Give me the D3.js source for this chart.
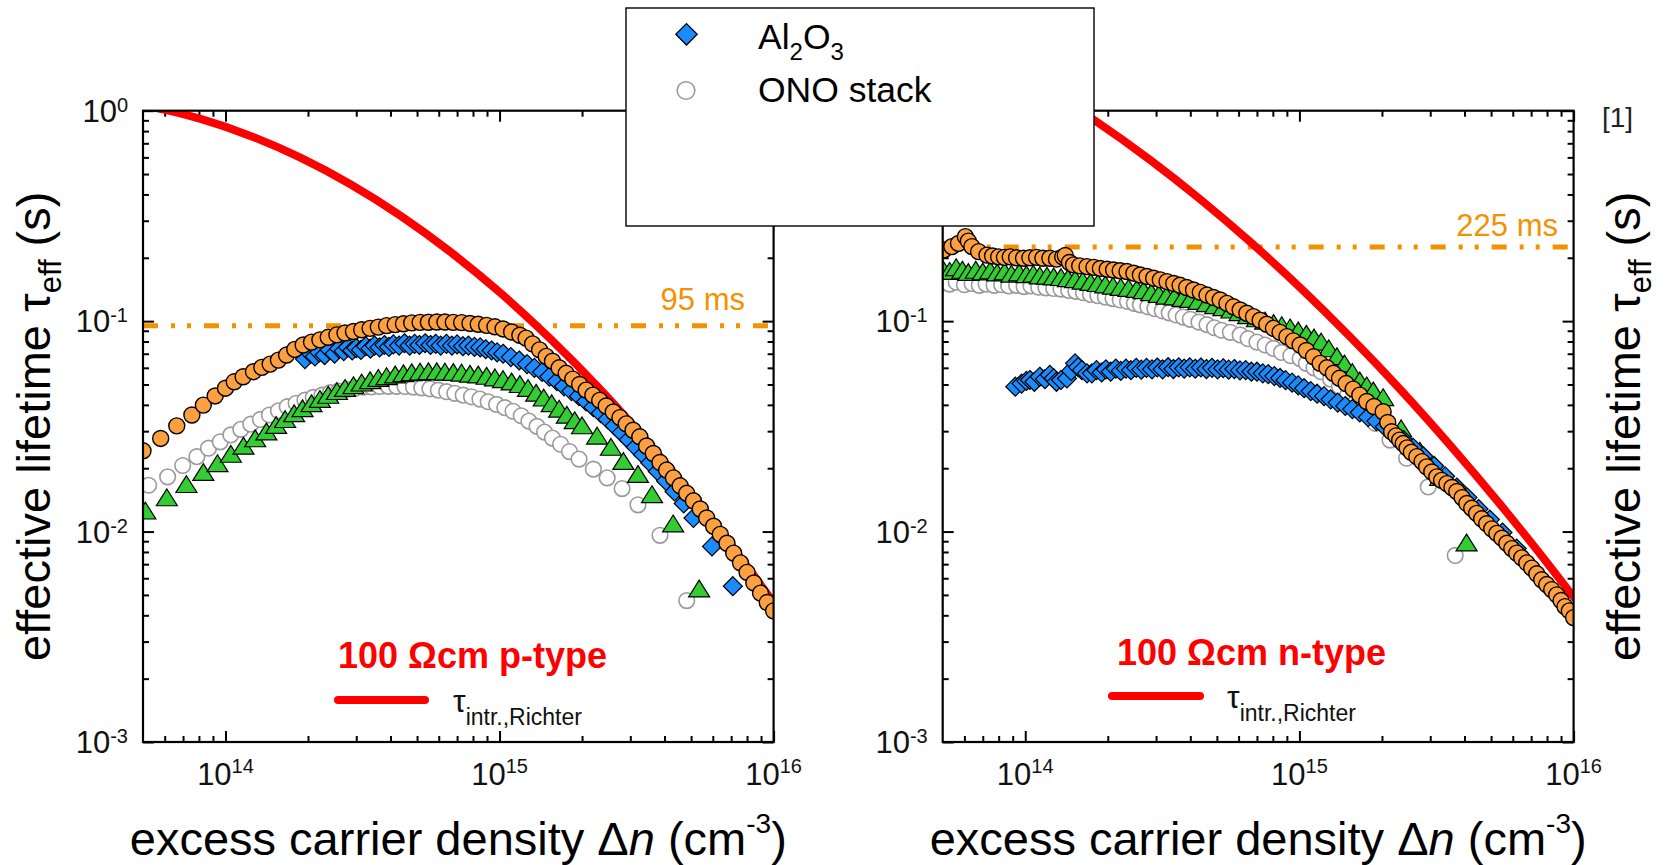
<!DOCTYPE html>
<html>
<head>
<meta charset="utf-8">
<script src="https://cdn.jsdelivr.net/npm/d3@7"></script>
<style>
  html, body { margin: 0; padding: 0; background: #fff; }
  svg { display: block; }
  text { font-family: Arial, "Liberation Sans", Helvetica, sans-serif; }
</style>
</head>
<body>
<svg id="chart" width="1671" height="865"></svg>
<script>
// ---------- axis ticks ----------
const xMajorTicks = [1e14, 1e15, 1e16];
const xTickExp = ["14", "15", "16"];
const yMajorTicks = [1, 0.1, 0.01, 0.001];
const yTickExp = ["0", "-1", "-2", "-3"];

// ---------- 100 Ωcm p-type : [Δn (cm^-3), τ_eff (s)] ----------
const pRichter = [[5.33e13,1.043],[6.21e13,1.0],[8.11e13,0.914],[1.233e14,0.759],[1.877e14,0.598],[2.856e14,0.447],
  [4.345e14,0.3174],[6.61e14,0.2136],[1.006e15,0.1363],[1.53e15,0.0825],[2.329e15,0.0474],[3.543e15,0.0258],
  [5.39e15,0.01335],[8.2e15,0.00655],[1e16,0.00459]];
const pLevel = 0.095;

const pOrange = [[5.0e13,0.0242],[5.8e13,0.0277],[6.64e13,0.0318],[7.54e13,0.0358],[8.3e13,0.0399],[9.17e13,0.0441],
  [1.0e14,0.048],[1.076e14,0.0515],[1.16e14,0.0544],[1.265e14,0.0575],[1.357e14,0.0603],[1.455e14,0.0625],[1.56e14,0.0653],
  [1.67e14,0.069],[1.79e14,0.0734],[1.92e14,0.077],[2.06e14,0.0795],[2.21e14,0.0815],[2.37e14,0.0838],[2.55e14,0.086],
  [2.73e14,0.0878],[2.93e14,0.0893],[3.14e14,0.091],[3.37e14,0.0924],[3.61e14,0.0937],[3.87e14,0.0952],[4.16e14,0.0962],
  [4.46e14,0.0972],[4.78e14,0.0981],[5.13e14,0.0986],[5.5e14,0.0988],[5.9e14,0.099],[6.32e14,0.099],[6.78e14,0.0987],
  [7.27e14,0.0984],[7.8e14,0.0975],[8.36e14,0.0966],[8.97e14,0.0955],[9.62e14,0.094],[1.03e15,0.0918],[1.107e15,0.0888],
  [1.186e15,0.0857],[1.25e15,0.083],[1.32e15,0.078],[1.40e15,0.073],[1.48e15,0.068],[1.56e15,0.0645],[1.65e15,0.060],
  [1.75e15,0.0565],[1.85e15,0.053],[1.96e15,0.050],[2.07e15,0.047],[2.19e15,0.0445],[2.32e15,0.042],[2.45e15,0.0395],
  [2.6e15,0.037],[2.75e15,0.0348],[2.9e15,0.0325],[3.07e15,0.0303],[3.25e15,0.0282],[3.44e15,0.0255],[3.64e15,0.0235],
  [3.85e15,0.0213],[4.07e15,0.0196],[4.31e15,0.018],[4.56e15,0.0165],[4.82e15,0.0152],[5.1e15,0.014],[5.4e15,0.0128],
  [5.7e15,0.0116],[6.04e15,0.0106],[6.39e15,0.0097],[6.76e15,0.0088],[7.15e15,0.0079],[7.57e15,0.0071],[8.0e15,0.0064],
  [8.47e15,0.0057],[8.96e15,0.0051],[9.48e15,0.0046],[1.0e16,0.0042]];

const pBlue = [[1.95e14,0.066],[2.05e14,0.070],[2.12e14,0.068],[2.2e14,0.071],[2.3e14,0.069],[2.4e14,0.073],[2.5e14,0.070],
  [2.6e14,0.074],[2.7e14,0.072],[2.8e14,0.075],[2.9e14,0.0725],[3.0e14,0.0745],[3.12e14,0.073],[3.25e14,0.076],
  [3.38e14,0.074],[3.5e14,0.0765],[3.65e14,0.075],[3.8e14,0.077],[3.95e14,0.0755],[4.1e14,0.0775],[4.3e14,0.0765],
  [4.5e14,0.0785],[4.7e14,0.0765],[4.9e14,0.078],[5.1e14,0.077],[5.35e14,0.0785],[5.6e14,0.077],[5.85e14,0.078],
  [6.1e14,0.0765],[6.4e14,0.078],[6.7e14,0.0765],[7.0e14,0.0775],[7.35e14,0.076],[7.7e14,0.0765],[8.1e14,0.0755],
  [8.5e14,0.075],[8.9e14,0.0735],[9.35e14,0.0725],[9.8e14,0.071],[1.03e15,0.070],[1.1e15,0.0675],[1.18e15,0.065],
  [1.26e15,0.0625],[1.34e15,0.060],[1.43e15,0.0573],[1.52e15,0.0545],[1.62e15,0.0518],[1.72e15,0.049],[1.83e15,0.0465],
  [1.95e15,0.044],[2.07e15,0.0415],[2.2e15,0.039],[2.34e15,0.0365],[2.48e15,0.0342],[2.63e15,0.0318],[2.79e15,0.0295],
  [2.96e15,0.0273],[3.14e15,0.0252],[3.34e15,0.0232],[3.55e15,0.0212],[3.78e15,0.0193],[4.05e15,0.0174],[4.35e15,0.0155],
  [4.7e15,0.0136],[5.1e15,0.0116],[5.96e15,0.0085],[7.1e15,0.0055]];

const pGreen = [[5.1e13,0.0122],[6.11e13,0.0141],[7.2e13,0.0163],[8.3e13,0.0186],[9.35e13,0.0205],[1.046e14,0.0227],
  [1.163e14,0.0248],[1.283e14,0.0269],[1.41e14,0.029],[1.53e14,0.0311],[1.65e14,0.0332],[1.78e14,0.0354],[1.91e14,0.0374],
  [2.06e14,0.0395],[2.21e14,0.0414],[2.37e14,0.0433],[2.55e14,0.0451],[2.73e14,0.0467],[2.93e14,0.0481],[3.14e14,0.0495],
  [3.37e14,0.0508],[3.61e14,0.0521],[3.87e14,0.0531],[4.16e14,0.0541],[4.46e14,0.0548],[4.78e14,0.0554],[5.13e14,0.0558],
  [5.5e14,0.056],[5.9e14,0.056],[6.32e14,0.0558],[6.78e14,0.0556],[7.27e14,0.0552],[7.8e14,0.0545],[8.36e14,0.0541],
  [8.97e14,0.0533],[9.62e14,0.0524],[1.03e15,0.0514],[1.107e15,0.0501],[1.186e15,0.0487],[1.27e15,0.0467],[1.36e15,0.0443],
  [1.45e15,0.042],[1.55e15,0.0395],[1.65e15,0.0372],[1.76e15,0.0348],[1.88e15,0.0328],[2.0e15,0.031],[2.27e15,0.0277],
  [2.55e15,0.0245],[2.83e15,0.021],[3.2e15,0.0182],[3.6e15,0.0146],[4.3e15,0.0106],[5.35e15,0.0052]];

const pGray = [[5.24e13,0.0166],[6.15e13,0.0182],[6.98e13,0.0206],[7.86e13,0.0227],[8.67e13,0.0249],[9.57e13,0.0267],
  [1.046e14,0.0288],[1.137e14,0.0306],[1.237e14,0.0324],[1.34e14,0.0341],[1.446e14,0.0358],[1.56e14,0.0375],[1.68e14,0.0392],
  [1.81e14,0.0407],[1.95e14,0.0421],[2.09e14,0.0434],[2.25e14,0.0445],[2.41e14,0.0457],[2.58e14,0.0465],[2.77e14,0.0474],
  [2.97e14,0.048],[3.19e14,0.0485],[3.41e14,0.0487],[3.66e14,0.0489],[3.93e14,0.049],[4.21e14,0.049],[4.52e14,0.0489],
  [4.85e14,0.0486],[5.2e14,0.0482],[5.57e14,0.0477],[5.98e14,0.047],[6.41e14,0.0462],[6.87e14,0.0454],[7.37e14,0.0445],
  [7.9e14,0.0437],[8.48e14,0.0426],[9.09e14,0.0414],[9.75e14,0.0402],[1.045e15,0.0388],[1.12e15,0.0373],[1.2e15,0.0355],
  [1.28e15,0.0335],[1.37e15,0.0316],[1.46e15,0.0297],[1.56e15,0.0278],[1.67e15,0.026],[1.8e15,0.024],[1.95e15,0.0221],
  [2.2e15,0.0198],[2.47e15,0.018],[2.8e15,0.016],[3.2e15,0.0134],[3.85e15,0.0096],[4.82e15,0.0047]];

// ---------- 100 Ωcm n-type ----------
const nRichter = [[1.342e14,1.152],[1.784e14,0.903],[2.856e14,0.583],[4.345e14,0.3796],[6.61e14,0.2383],[1.006e15,0.1443],
  [1.53e15,0.0843],[2.329e15,0.0475],[3.543e15,0.02576],[5.39e15,0.0135],[8.2e15,0.00682],[1e16,0.00488]];
const nLevel = 0.225;

const nOrange = [[5.05e13,0.218],[5.4e13,0.226],[5.71e13,0.234],[6.05e13,0.252],[6.2e13,0.24],[6.39e13,0.226],
  [6.76e13,0.214],[7.25e13,0.206],[7.6e13,0.204],[8.0e13,0.202],[8.4e13,0.201],[8.82e13,0.202],[9.3e13,0.2],[9.86e13,0.199],
  [1.04e14,0.2],[1.1e14,0.201],[1.16e14,0.199],[1.23e14,0.199],[1.3e14,0.197],[1.37e14,0.202],[1.4e14,0.205],[1.45e14,0.19],
  [1.5e14,0.185],[1.58e14,0.183],[1.68e14,0.1815],[1.78e14,0.18],[1.88e14,0.178],[1.99e14,0.1765],[2.1e14,0.175],
  [2.22e14,0.1735],[2.35e14,0.172],[2.49e14,0.169],[2.63e14,0.1657],[2.78e14,0.163],[2.94e14,0.16],[3.11e14,0.157],
  [3.29e14,0.154],[3.48e14,0.151],[3.67e14,0.148],[3.88e14,0.1445],[4.11e14,0.1406],[4.35e14,0.137],[4.6e14,0.133],
  [4.86e14,0.1295],[5.14e14,0.126],[5.44e14,0.1215],[5.75e14,0.117],[6.08e14,0.113],[6.43e14,0.109],[6.8e14,0.105],
  [7.19e14,0.101],[7.6e14,0.0966],[8.04e14,0.0924],[8.5e14,0.0884],[9.0e14,0.0844],[9.5e14,0.0806],[1.006e15,0.077],
  [1.06e15,0.0725],[1.126e15,0.0677],[1.19e15,0.063],[1.26e15,0.06],[1.33e15,0.0565],[1.4e15,0.0535],[1.48e15,0.0505],
  [1.57e15,0.0475],[1.66e15,0.0445],[1.76e15,0.0415],[1.87e15,0.0393],[2.02e15,0.0371],[2.1e15,0.033],[2.17e15,0.0298],
  [2.25e15,0.0285],[2.32e15,0.0272],[2.39e15,0.0262],[2.47e15,0.025],[2.56e15,0.0238],[2.68e15,0.0227],[2.8e15,0.0215],
  [2.91e15,0.0203],[3.04e15,0.0192],[3.17e15,0.0182],[3.3e15,0.0175],[3.45e15,0.0169],[3.6e15,0.0162],[3.75e15,0.0155],
  [3.92e15,0.0145],[4.08e15,0.0136],[4.25e15,0.0129],[4.43e15,0.0122],[4.62e15,0.0115],[4.82e15,0.0109],[5.03e15,0.0103],
  [5.25e15,0.0098],[5.48e15,0.0093],[5.71e15,0.0088],[5.95e15,0.0083],[6.2e15,0.0079],[6.47e15,0.0075],[6.75e15,0.0071],
  [7.04e15,0.0067],[7.34e15,0.0063],[7.65e15,0.0059],[7.98e15,0.0056],[8.32e15,0.0053],[8.68e15,0.005],[9.0e15,0.0047],
  [9.3e15,0.0044],[9.65e15,0.0042],[1.0e16,0.0039]];

const nBlue = [[9.2e13,0.0488],[9.7e13,0.0505],[1.01e14,0.052],[1.04e14,0.0525],[1.08e14,0.0515],[1.13e14,0.0544],
  [1.18e14,0.053],[1.23e14,0.0555],[1.27e14,0.0535],[1.3e14,0.0515],[1.35e14,0.0525],[1.42e14,0.0534],[1.47e14,0.058],
  [1.52e14,0.063],[1.56e14,0.0605],[1.61e14,0.0585],[1.68e14,0.0565],[1.75e14,0.0565],[1.82e14,0.0585],[1.9e14,0.057],
  [1.97e14,0.059],[2.05e14,0.0575],[2.14e14,0.0595],[2.23e14,0.058],[2.33e14,0.0595],[2.43e14,0.0585],[2.54e14,0.06],
  [2.65e14,0.0588],[2.77e14,0.06],[2.9e14,0.059],[3.03e14,0.0602],[3.17e14,0.059],[3.32e14,0.0604],[3.47e14,0.0592],
  [3.63e14,0.0603],[3.8e14,0.0595],[3.98e14,0.0603],[4.17e14,0.0594],[4.37e14,0.0602],[4.58e14,0.0592],[4.8e14,0.06],
  [5.03e14,0.059],[5.27e14,0.0597],[5.52e14,0.0588],[5.79e14,0.0592],[6.07e14,0.0583],[6.37e14,0.0585],[6.68e14,0.0575],
  [7.0e14,0.0575],[7.35e14,0.0565],[7.7e14,0.056],[8.1e14,0.0548],[8.5e14,0.0537],[8.9e14,0.0524],[9.4e14,0.051],
  [9.9e14,0.0495],[1.04e15,0.048],[1.1e15,0.0465],[1.16e15,0.0452],[1.23e15,0.044],[1.3e15,0.0425],[1.38e15,0.041],
  [1.47e15,0.0395],[1.56e15,0.0382],[1.66e15,0.0368],[1.78e15,0.035],[1.91e15,0.0335],[2.05e15,0.0315],[2.2e15,0.0295],
  [2.4e15,0.0272],[2.6e15,0.025],[2.83e15,0.0228],[3.1e15,0.0205],[3.4e15,0.0183],[3.75e15,0.0162],[4.1e15,0.0145],
  [4.5e15,0.0128],[4.95e15,0.0114],[5.5e15,0.0099],[6.2e15,0.0083]];

const nGreen = [[5.0e13,0.172],[5.3e13,0.168],[5.6e13,0.175],[5.9e13,0.17],[6.2e13,0.166],[6.6e13,0.17],[7.0e13,0.167],
  [7.45e13,0.169],[7.9e13,0.165],[8.4e13,0.167],[8.9e13,0.163],[9.5e13,0.165],[1.01e14,0.162],[1.07e14,0.163],[1.13e14,0.16],
  [1.2e14,0.1595],[1.27e14,0.158],[1.35e14,0.157],[1.43e14,0.155],[1.52e14,0.1535],[1.62e14,0.151],[1.73e14,0.1488],
  [1.84e14,0.147],[1.96e14,0.145],[2.09e14,0.143],[2.23e14,0.141],[2.38e14,0.1395],[2.55e14,0.138],[2.7e14,0.136],
  [2.88e14,0.133],[3.07e14,0.1305],[3.27e14,0.128],[3.5e14,0.127],[3.75e14,0.125],[4.0e14,0.1235],[4.28e14,0.121],
  [4.6e14,0.118],[4.93e14,0.1155],[5.28e14,0.113],[5.65e14,0.11],[6.05e14,0.107],[6.5e14,0.1035],[7.0e14,0.1],
  [7.5e14,0.0975],[8.05e14,0.095],[8.62e14,0.0928],[9.25e14,0.0905],[9.9e14,0.0875],[1.06e15,0.0845],[1.13e15,0.081],
  [1.2e15,0.0775],[1.28e15,0.072],[1.37e15,0.066],[1.46e15,0.061],[1.56e15,0.0555],[1.66e15,0.0506],[1.76e15,0.048],
  [1.86e15,0.0454],[2.02e15,0.0422],[2.35e15,0.03],[2.75e15,0.0235],[3.26e15,0.0176],[4.07e15,0.0086]];

const nGray = [[5.0e13,0.152],[5.3e13,0.15],[5.6e13,0.153],[6.0e13,0.149],[6.4e13,0.151],[6.8e13,0.148],[7.2e13,0.15],
  [7.7e13,0.148],[8.2e13,0.149],[8.7e13,0.147],[9.3e13,0.148],[9.9e13,0.146],[1.05e14,0.147],[1.12e14,0.145],[1.19e14,0.144],
  [1.27e14,0.143],[1.35e14,0.142],[1.44e14,0.14],[1.53e14,0.1385],[1.63e14,0.1365],[1.73e14,0.134],[1.84e14,0.132],
  [1.96e14,0.13],[2.09e14,0.128],[2.22e14,0.126],[2.36e14,0.124],[2.5e14,0.1215],[2.63e14,0.1195],[2.8e14,0.117],
  [2.97e14,0.1145],[3.16e14,0.112],[3.35e14,0.1095],[3.55e14,0.107],[3.77e14,0.1045],[4.0e14,0.102],[4.3e14,0.099],
  [4.6e14,0.0962],[4.9e14,0.093],[5.2e14,0.0905],[5.6e14,0.0885],[6.08e14,0.086],[6.5e14,0.0825],[7.0e14,0.0795],
  [7.5e14,0.077],[8.04e14,0.0742],[8.6e14,0.071],[9.3e14,0.0685],[1.006e15,0.0664],[1.06e15,0.063],[1.13e15,0.06],
  [1.2e15,0.0575],[1.3e15,0.053],[1.4e15,0.049],[1.5e15,0.0445],[1.6e15,0.041],[1.71e15,0.0371],[1.89e15,0.0327],
  [2.14e15,0.0272],[2.46e15,0.0223],[2.95e15,0.0163],[3.7e15,0.0077]];

// ---------- layout ----------
const TOP = 110.7, BOTTOM = 742;
const C = {
  red: "#ff0000", level: "#f39200", orange: "#ffa040", blue: "#1a8cff",
  green: "#33cc33", gray: "#9a9a9a", ink: "#000"
};

const panels = [
  { id: "p", left: 143, right: 773.6, richter: pRichter, level: pLevel, levelText: "95 ms",
    levelLabel: { x: 745, dy: -16 }, orange: pOrange, blue: pBlue, green: pGreen, gray: pGray,
    typeText: "100 \u03A9cm p-type", typePos: [338, 668], keyLine: [338, 425, 700], keyTau: [453, 711.7],
    titleX: 50, hiddenYLabels: [] },
  { id: "n", left: 942.7, right: 1573.6, richter: nRichter, level: nLevel, levelText: "225 ms",
    levelLabel: { x: 1558, dy: -11 }, orange: nOrange, blue: nBlue, green: nGreen, gray: nGray,
    typeText: "100 \u03A9cm n-type", typePos: [1117, 665], keyLine: [1112, 1200, 696], keyTau: [1227, 708.3],
    titleX: 1640, hiddenYLabels: [1] }   // the 10^0 label sits under the legend box
];

const svg = d3.select("#chart");

// custom marker shapes
const triangleShape = {
  draw(ctx, w) { const h = w * 0.8; ctx.moveTo(0, -2 * h / 3); ctx.lineTo(w / 2, h / 3); ctx.lineTo(-w / 2, h / 3); ctx.closePath(); }
};
const diamondShape = {
  draw(ctx, r) { ctx.moveTo(0, -r); ctx.lineTo(r, 0); ctx.lineTo(0, r); ctx.lineTo(-r, 0); ctx.closePath(); }
};
const triPath = d3.symbol().type(triangleShape).size(21)();
const diaPath = d3.symbol().type(diamondShape).size(9.5)();
const diaLegendPath = d3.symbol().type(diamondShape).size(10.7)();

function minorTicks(lo, hi) {
  const out = [];
  for (let e = Math.floor(Math.log10(lo)); e <= Math.ceil(Math.log10(hi)); e++) {
    for (let k = 2; k <= 9; k++) { const v = k * Math.pow(10, e); if (v > lo * 1.001 && v < hi * 0.999) out.push(v); }
  }
  return out;
}

panels.forEach((P) => {
  const x = d3.scaleLog().domain([5e13, 1e16]).range([P.left, P.right]);
  const y = d3.scaleLog().domain([1e-3, 1]).range([BOTTOM, TOP]);
  const g = svg.append("g").attr("class", "panel-" + P.id);

  const clipId = "clip-" + P.id;
  svg.append("defs").append("clipPath").attr("id", clipId)
    .append("rect").attr("x", P.left).attr("y", TOP).attr("width", P.right - P.left).attr("height", BOTTOM - TOP);

  // ticks on all four sides, pointing inward
  const xMin = minorTicks(5e13, 1e16), yMin = minorTicks(1e-3, 1);
  const axes = [
    [d3.axisBottom(x), BOTTOM, "x"], [d3.axisTop(x), TOP, "x"],
    [d3.axisLeft(y), P.left, "y"], [d3.axisRight(y), P.right, "y"]
  ];
  axes.forEach(([ax, pos, dim]) => {
    [[dim === "x" ? xMin : yMin, -6], [dim === "x" ? xMajorTicks : yMajorTicks, -11]].forEach(([vals, size]) => {
      const a = ax.tickValues(vals).tickSize(size).tickSizeOuter(0).tickFormat("");
      const ag = g.append("g")
        .attr("transform", dim === "x" ? `translate(0,${pos})` : `translate(${pos},0)`)
        .call(a);
      ag.select(".domain").remove();
      ag.selectAll(".tick line").attr("stroke", C.ink).attr("stroke-width", 2);
    });
  });

  // tick labels
  g.selectAll(".xlab").data(xMajorTicks).join("text").attr("class", "xlab")
    .attr("x", d => x(d)).attr("y", 785).attr("text-anchor", "middle").attr("font-size", 31).attr("fill", "#111")
    .each(function (d, i) {
      const t = d3.select(this);
      t.append("tspan").text("10");
      t.append("tspan").attr("dy", -12).attr("font-size", 20).text(xTickExp[i]);
    });
  const yLabData = yMajorTicks.map((v, i) => ({ v, e: yTickExp[i] })).filter(d => !P.hiddenYLabels.includes(d.v));
  g.selectAll(".ylab").data(yLabData).join("text").attr("class", "ylab")
    .attr("x", P.left - 15).attr("y", d => y(d.v) + 11).attr("text-anchor", "end").attr("font-size", 31).attr("fill", "#111")
    .each(function (d) {
      const t = d3.select(this);
      t.append("tspan").text("10");
      t.append("tspan").attr("dy", -10).attr("font-size", 20).text(d.e);
    });

  const plot = g.append("g").attr("clip-path", `url(#${clipId})`);

  // measured lifetime limit (dash-dot)
  plot.append("line")
    .attr("x1", P.left).attr("x2", P.right).attr("y1", y(P.level)).attr("y2", y(P.level))
    .attr("stroke", C.level).attr("stroke-width", 5).attr("stroke-dasharray", "15,13,4,12,4,13");

  // intrinsic lifetime limit
  plot.append("path").datum(P.richter)
    .attr("d", d3.line().x(d => x(d[0])).y(d => y(d[1])).curve(d3.curveMonotoneX))
    .attr("fill", "none").attr("stroke", C.red).attr("stroke-width", 8).attr("stroke-linecap", "round");

  // ONO stack (open circles)
  plot.append("g").selectAll("circle").data(P.gray).join("circle")
    .attr("cx", d => x(d[0])).attr("cy", d => y(d[1])).attr("r", 7.8)
    .attr("fill", "#fff").attr("stroke", C.gray).attr("stroke-width", 1.6);
  // triangles
  plot.append("g").selectAll("path").data(P.green).join("path")
    .attr("transform", d => `translate(${x(d[0])},${y(d[1])})`).attr("d", triPath)
    .attr("fill", C.green).attr("stroke", C.ink).attr("stroke-width", 1.2).attr("stroke-linejoin", "miter");
  // Al2O3 (diamonds)
  plot.append("g").selectAll("path").data(P.blue).join("path")
    .attr("transform", d => `translate(${x(d[0])},${y(d[1])})`).attr("d", diaPath)
    .attr("fill", C.blue).attr("stroke", C.ink).attr("stroke-width", 1.2);
  // filled circles
  plot.append("g").selectAll("circle").data(P.orange).join("circle")
    .attr("cx", d => x(d[0])).attr("cy", d => y(d[1])).attr("r", 8)
    .attr("fill", C.orange).attr("stroke", C.ink).attr("stroke-width", 1.4);

  // frame
  g.append("rect").attr("x", P.left).attr("y", TOP).attr("width", P.right - P.left).attr("height", BOTTOM - TOP)
    .attr("fill", "none").attr("stroke", C.ink).attr("stroke-width", 2.2);

  // level label
  g.append("text").attr("x", P.levelLabel.x).attr("y", y(P.level) + P.levelLabel.dy)
    .attr("text-anchor", "end").attr("font-size", 31).attr("fill", C.level).text(P.levelText);

  // wafer type + intrinsic key
  g.append("text").attr("x", P.typePos[0]).attr("y", P.typePos[1]).attr("font-size", 36).attr("font-weight", "bold")
    .attr("fill", C.red).text(P.typeText);
  g.append("line").attr("x1", P.keyLine[0]).attr("x2", P.keyLine[1]).attr("y1", P.keyLine[2]).attr("y2", P.keyLine[2])
    .attr("stroke", C.red).attr("stroke-width", 8).attr("stroke-linecap", "round");
  const kt = g.append("text").attr("x", P.keyTau[0]).attr("y", P.keyTau[1]).attr("font-size", 32).attr("fill", "#111");
  kt.append("tspan").text("\u03C4");
  kt.append("tspan").attr("dy", 13).attr("font-size", 23).text("intr.,Richter");

  // axis titles
  const xt = g.append("text").attr("x", (P.left + P.right) / 2).attr("y", 855).attr("text-anchor", "middle")
    .attr("font-size", 47).attr("fill", "#000");
  xt.append("tspan").text("excess carrier density \u0394");
  xt.append("tspan").attr("font-style", "italic").text("n");
  xt.append("tspan").text(" (cm");
  xt.append("tspan").attr("dy", -22).attr("font-size", 28).text("-3");
  xt.append("tspan").attr("dy", 22).text(")");

  const yt = g.append("text").attr("transform", `translate(${P.titleX},${(TOP + BOTTOM) / 2}) rotate(-90)`)
    .attr("text-anchor", "middle").attr("font-size", 47).attr("fill", "#000");
  yt.append("tspan").text("effective lifetime \u03C4");
  yt.append("tspan").attr("dy", 11).attr("font-size", 31).text("eff");
  yt.append("tspan").attr("dy", -11).text("  (s)");
});

// reference tag
svg.append("text").attr("x", 1602).attr("y", 127).attr("font-size", 28).attr("fill", "#222").text("[1]");

// legend
const lg = svg.append("g").attr("class", "legend");
lg.append("rect").attr("x", 626).attr("y", 8).attr("width", 468).attr("height", 218)
  .attr("fill", "#fff").attr("stroke", "#000").attr("stroke-width", 1.4);
lg.append("path").attr("transform", "translate(686.5,34.3)").attr("d", diaLegendPath)
  .attr("fill", C.blue).attr("stroke", "#000").attr("stroke-width", 1.3);
const l1 = lg.append("text").attr("x", 758).attr("y", 48.5).attr("font-size", 35.5).attr("fill", "#000");
l1.append("tspan").text("Al");
l1.append("tspan").attr("dy", 11).attr("font-size", 24).text("2");
l1.append("tspan").attr("dy", -11).text("O");
l1.append("tspan").attr("dy", 11).attr("font-size", 24).text("3");
lg.append("circle").attr("cx", 686).attr("cy", 90.5).attr("r", 8.8)
  .attr("fill", "#fff").attr("stroke", C.gray).attr("stroke-width", 1.6);
lg.append("text").attr("x", 758).attr("y", 101.5).attr("font-size", 35.5).attr("fill", "#000").text("ONO stack");
</script>
</body>
</html>
